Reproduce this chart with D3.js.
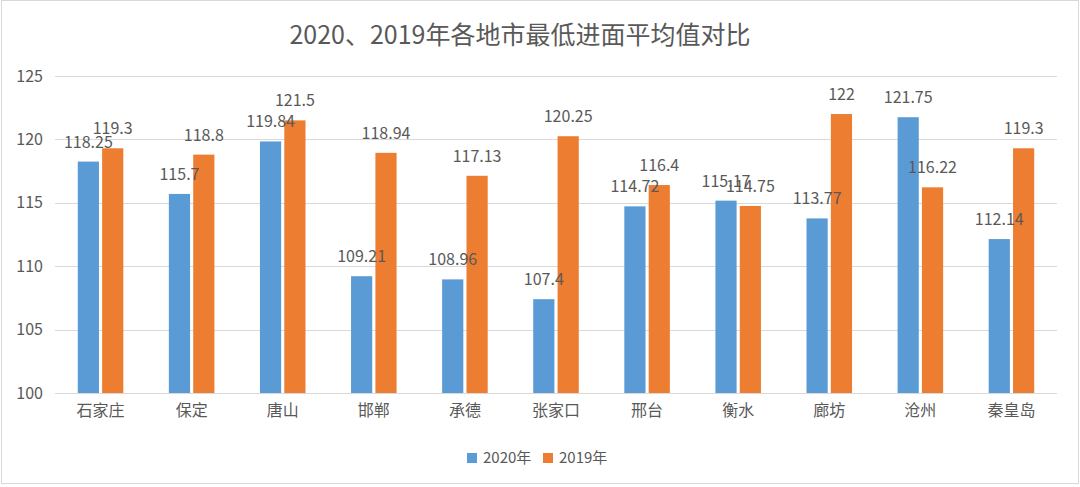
<!DOCTYPE html>
<html>
<head>
<meta charset="utf-8">
<script src="https://cdn.jsdelivr.net/npm/d3@7"></script>
<style>
  body { margin: 0; background: #fff; }
  text { font-family: "Noto Sans CJK SC", "Noto Sans", sans-serif; fill: #595959; }
</style>
</head>
<body>
<script>
// Datos del gráfico
const categorias = ["石家庄", "保定", "唐山", "邯郸", "承德", "张家口", "邢台", "衡水", "廊坊", "沧州", "秦皇岛"];
const series = ["2020年", "2019年"];
const valores2020 = [118.25, 115.7, 119.84, 109.21, 108.96, 107.4, 114.72, 115.17, 113.77, 121.75, 112.14];
const valores2019 = [119.3, 118.8, 121.5, 118.94, 117.13, 120.25, 116.4, 114.75, 122, 116.22, 119.3];
const ticksY = [100, 105, 110, 115, 120, 125];
const titulo = "2020、2019年各地市最低进面平均值对比";

const WIDTH = 1080;
const HEIGHT = 487;
const MARGIN = { top: 76, bottom: 94, left: 55, right: 23 };
const colores = ["#5B9BD5", "#ED7D31"];

const svg = d3.select("body")
  .append("svg")
  .attr("width", WIDTH)
  .attr("height", HEIGHT);

// Borde del área del gráfico
svg.append("rect")
  .attr("x", 1.5).attr("y", 0.5)
  .attr("width", WIDTH - 3).attr("height", HEIGHT - 4)
  .attr("fill", "none")
  .attr("stroke", "#D9D9D9");

// Título
svg.append("text")
  .attr("x", 520)
  .attr("y", 44)
  .attr("text-anchor", "middle")
  .attr("font-size", 25)
  .text(titulo);

const escalaY = d3.scaleLinear()
  .domain([100, 125])
  .range([HEIGHT - MARGIN.bottom, MARGIN.top]);

const escalaX = d3.scaleBand()
  .domain(categorias)
  .range([MARGIN.left, WIDTH - MARGIN.right])
  .paddingInner(0.5)
  .paddingOuter(0.25);

const escalaSerie = d3.scaleBand()
  .domain(series)
  .range([0, escalaX.bandwidth()])
  .paddingInner(0.13);

// Eje Y con líneas de grilla
const ejeY = d3.axisLeft(escalaY).tickValues(ticksY).tickSize(0).tickPadding(12);
const gY = svg.append("g")
  .attr("transform", `translate(${MARGIN.left}, 0)`)
  .call(ejeY);
gY.select(".domain").remove();
gY.selectAll("text").attr("font-size", 16).attr("fill", "#595959");
svg.append("g")
  .selectAll("line")
  .data(ticksY)
  .join("line")
  .attr("x1", MARGIN.left)
  .attr("x2", WIDTH - MARGIN.right)
  .attr("y1", (d) => Math.round(escalaY(d)) + 0.5)
  .attr("y2", (d) => Math.round(escalaY(d)) + 0.5)
  .attr("stroke", "#D9D9D9");

// Eje X
const ejeX = d3.axisBottom(escalaX).tickSize(0).tickPadding(12);
const gX = svg.append("g")
  .attr("transform", `translate(0, ${HEIGHT - MARGIN.bottom})`)
  .call(ejeX);
gX.select(".domain").remove();
gX.selectAll("text").attr("font-size", 16).attr("fill", "#595959");

// Barras
const datos = categorias.map((c, i) => ({
  categoria: c,
  valores: [
    { serie: series[0], valor: valores2020[i] },
    { serie: series[1], valor: valores2019[i] },
  ],
}));

const grupos = svg.append("g")
  .selectAll("g")
  .data(datos)
  .join("g")
  .attr("transform", (d) => `translate(${escalaX(d.categoria)}, 0)`);

grupos.selectAll("rect")
  .data((d) => d.valores)
  .join("rect")
  .attr("x", (d) => escalaSerie(d.serie))
  .attr("y", (d) => escalaY(d.valor))
  .attr("width", escalaSerie.bandwidth())
  .attr("height", (d) => escalaY(100) - escalaY(d.valor))
  .attr("fill", (d, i) => colores[i]);

grupos.selectAll("text")
  .data((d) => d.valores)
  .join("text")
  .attr("x", (d) => escalaSerie(d.serie) + escalaSerie.bandwidth() / 2)
  .attr("y", (d) => escalaY(d.valor) - 14)
  .attr("text-anchor", "middle")
  .attr("font-size", 16)
  .text((d) => d.valor);

// Leyenda
const leyenda = svg.append("g")
  .selectAll("g")
  .data(series)
  .join("g")
  .attr("transform", (d, i) => `translate(${467 + i * 76}, 453)`);
leyenda.append("rect")
  .attr("width", 10).attr("height", 10)
  .attr("fill", (d, i) => colores[i]);
leyenda.append("text")
  .attr("x", 16).attr("y", 10)
  .attr("font-size", 15)
  .text((d) => d);
</script>
</body>
</html>
